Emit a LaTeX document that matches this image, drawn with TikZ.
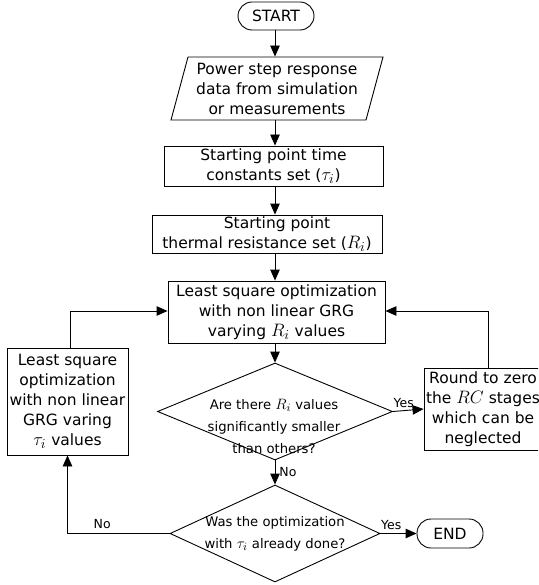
\documentclass[tikz,border=0pt]{standalone}
\usepackage{fontspec}
\setmainfont{DejaVu Sans}
\usetikzlibrary{shapes.geometric,arrows.meta,calc}
\newcommand{\mymath}[1]{\scalebox{1.25}{$#1$}}
\begin{document}
\begin{tikzpicture}[x=1pt,y=-1pt,
  line width=0.9pt,
  txt/.style={font=\fontsize{15.5}{20}\selectfont, align=center, inner sep=0pt},
  boxn/.style={draw, rectangle, inner sep=0pt},
  term/.style={draw, rectangle, rounded corners=14pt, inner sep=0pt},
  dia/.style={draw, diamond, inner sep=0pt},
  dtxt/.style={font=\fontsize{13.2}{22}\selectfont, align=center, inner sep=0pt},
  lab/.style={font=\fontsize{12.5}{13}\selectfont, inner sep=0pt},
  arr/.style={-{Triangle[length=11pt,width=9.5pt]}}]
\clip (0,0) rectangle (538,585);
\fill[white] (0,0) rectangle (538,585);
\coordinate (col) at (275,0);
% START
\node[term, minimum width=76, minimum height=28, txt] (start) at (276,16) {START};
% data parallelogram
\node[minimum width=180, minimum height=63, inner sep=0pt] (data) at (277,88.5) {};
\draw (188,57) -- (383,57) -- (366,120) -- (171,120) -- cycle;
\node[txt] (datat) at (277,89) {Power step response\\data from simulation\\or measurements};
% box 2
\node[boxn, minimum width=219, minimum height=40] (b2) at (273.5,166) {};
\node[txt] (b2t) at (273.5,166) {Starting point time\\constants set (\mymath{\tau_i})};
% box 3
\node[boxn, minimum width=230, minimum height=38] (b3) at (267,234) {};
\node[txt] (b3t) at (267,234) {\hspace*{20pt}Starting point\\thermal resistance set (\mymath{R_i})};
% box 4
\node[boxn, minimum width=217, minimum height=62] (b4) at (276.5,312) {};
\node[txt] (b4t) at (276.5,312) {Least square optimization\\with non linear GRG\\varying \mymath{R_i} values};
% diamond 1
\node[dia, minimum width=235, minimum height=97] (d1) at (275,411.5) {};
\node[dtxt] (d1t) at (274,426) {Are there \mymath{R_i} values\\significantly smaller\\than others?};
% right box
\node[boxn, minimum width=118, minimum height=82] (rb) at (483,409) {};
\node[txt] (rbt) at (483,409) {Round to zero\\the \mymath{RC} stages\\which can be\\neglected};
% left box
\node[boxn, minimum width=121, minimum height=107] (lb) at (67.5,401.5) {};
\node[txt] (lbt) at (67.5,401.5) {Least square\\optimization\\with non linear\\GRG varing\\\mymath{\tau_i} values};
% diamond 2
\node[dia, minimum width=210, minimum height=97] (d2) at (275,533.5) {};
\node[dtxt] (d2t) at (275,534) {Was the optimization\\with \mymath{\tau_i} already done?};
% END
\node[term, minimum width=66, minimum height=29, txt] (end) at (450,533.5) {END};
% connectors
\draw[arr] (start.south -| col) -- (data.north -| col);
\draw[arr] (data.south -| col) -- (b2.north -| col);
\draw[arr] (b2.south -| col) -- (b3.north -| col);
\draw[arr] (b3.south -| col) -- (b4.north -| col);
\draw[arr] (b4.south -| col) -- (d1.north);
\draw[arr] (d1.east) -- node[lab, above=3pt, pos=0.35] {Yes} (rb.west);
\draw[arr] ([xshift=5pt]rb.north) |- ([yshift=1pt]b4.east);
\draw[arr] ([xshift=2.5pt]lb.north) |- ([yshift=1pt]b4.west);
\draw[arr] (d1.south) -- node[lab, right=4pt] {No} (d2.north);
\draw[arr] (d2.west) -| node[lab, above=4pt, pos=0.33] {No} (lb.south);
\draw[arr] (d2.east) -- node[lab, above=3pt, pos=0.3] {Yes} (end.west);
\end{tikzpicture}
\end{document}
